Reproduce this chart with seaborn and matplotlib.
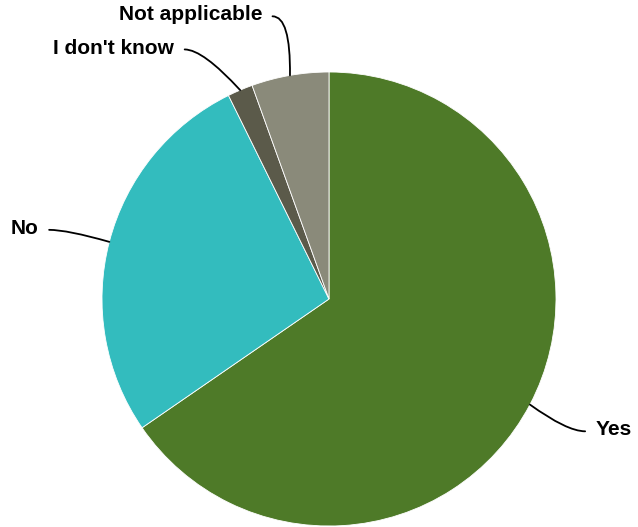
import numpy as np
import matplotlib
matplotlib.use("Agg")
import matplotlib.pyplot as plt
from matplotlib.path import Path
from matplotlib.patches import PathPatch
import seaborn as sns

categories = ["Yes", "No", "I don't know", "Not applicable"]
shares = [65.4, 27.3, 1.8, 5.5]
colors = ["#4e7a28", "#33bcbe", "#5b5a4a", "#8a8a7a"]

sns.set_theme(style="white")
plt.rcParams["font.family"] = ["Liberation Sans", "DejaVu Sans"]

W, H = 638, 527
fig = plt.figure(figsize=(W / 100, H / 100), dpi=100)
fig.patch.set_facecolor("white")
R = 227  # pie radius in pixels
cx, cy = 329, 299
ax = fig.add_axes([(cx - R) / W, (H - cy - R) / H, 2 * R / W, 2 * R / H])

wedges, _ = ax.pie(
    shares,
    colors=colors,
    startangle=90,
    counterclock=False,
    radius=1.0,
    wedgeprops=dict(edgecolor="white", linewidth=0.6),
)
ax.set_xlim(-1, 1)
ax.set_ylim(-1, 1)
ax.set_aspect("equal")
ax.axis("off")

# connector end radius and small angular nudges (degrees, counter-clockwise)
# so neighbouring labels separate
end_radius = 1.27
nudge = {"I don't know": 7.0, "Not applicable": 1.4, "No": 0.7, "Yes": 0.4}
hook = 0.08

for w, label in zip(wedges, categories):
    mid = np.deg2rad((w.theta1 + w.theta2) / 2)
    sx, sy = np.cos(mid), np.sin(mid)
    ang = mid + np.deg2rad(nudge[label])
    ex, ey = end_radius * np.cos(ang), end_radius * np.sin(ang)
    side = 1 if ex > 0 else -1
    ctrl = (ex - side * hook, ey)
    path = Path([(sx, sy), ctrl, (ex, ey)], [Path.MOVETO, Path.CURVE3, Path.CURVE3])
    ax.add_patch(PathPatch(path, fill=False, edgecolor="black", linewidth=1.3,
                           clip_on=False, capstyle="round"))
    ax.annotate(
        label,
        xy=(ex, ey),
        xytext=(side * 7.5, 1),
        textcoords="offset points",
        ha="left" if side > 0 else "right",
        va="center",
        fontsize=15,
        fontweight="bold",
        color="black",
        annotation_clip=False,
    )

fig.savefig("out.png", dpi=100, facecolor="white")
